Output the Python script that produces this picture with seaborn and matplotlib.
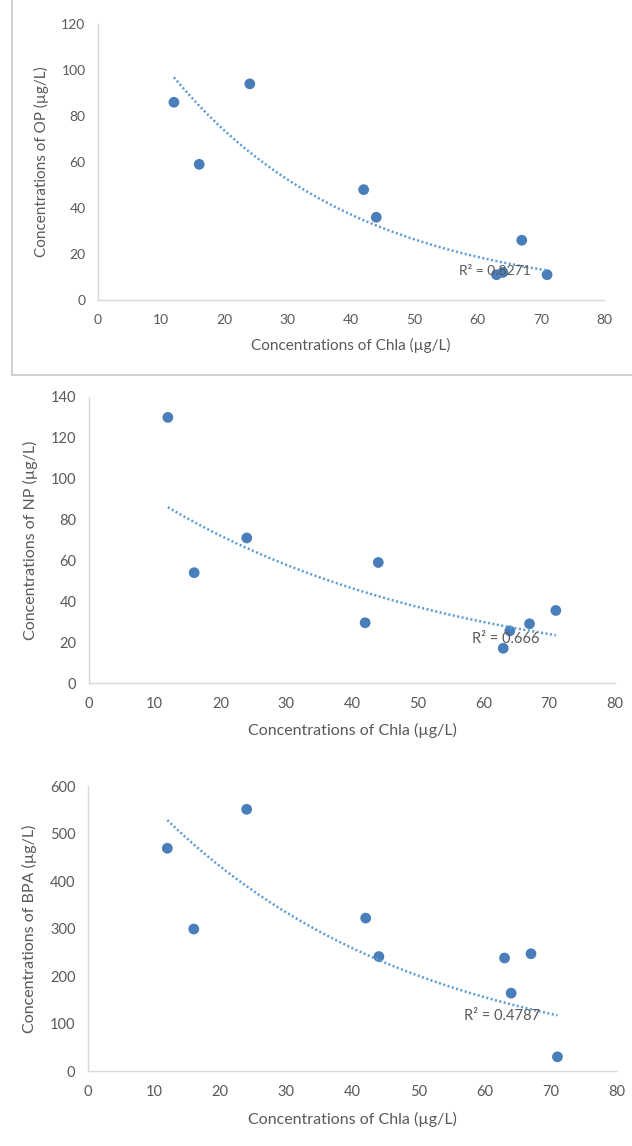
import numpy as np
import seaborn as sns
import matplotlib.pyplot as plt
from matplotlib.lines import Line2D

# data
chla = [12, 16, 24, 42, 44, 63, 64, 67, 71]
op = [86, 59, 94, 48, 36, 11, 12, 26, 11]
np_vals = [130, 54, 71, 29.5, 59, 17, 25.5, 29, 35.5]
bpa = [469, 299, 551, 322, 241, 238, 164, 247, 30]

r2_labels = ['R\u00b2 = 0.8271', 'R\u00b2 = 0.666', 'R\u00b2 = 0.4787']
r2_pos = [(62.8, 12.6), (63.4, 21.5), (62.6, 116)]
ylabels = ['Concentrations of OP (\u00b5g/L)', 'Concentrations of NP (\u00b5g/L)',
           'Concentrations of BPA (\u00b5g/L)']
ymaxes = [120, 140, 600]
ysteps = [20, 20, 100]

sns.set_style("white")
plt.rcParams['font.family'] = ['Lato', 'DejaVu Sans']

grey = '#595959'
dot = '#4a7ebb'
fig = plt.figure(figsize=(6.32, 11.46), dpi=100)

# axes boxes in figure fractions
boxes = [[0.1551, 0.7382, 0.8006, 0.2408],
         [0.1408, 0.4040, 0.8323, 0.2496],
         [0.1392, 0.0654, 0.8370, 0.2487]]
tsizes = [10, 10.5, 10.5]
lsizes = [11, 11.5, 11.5]

for i, yv in enumerate([op, np_vals, bpa]):
    ax = fig.add_axes(boxes[i])
    sns.scatterplot(x=chla, y=yv, ax=ax, color=dot, s=60, edgecolor='none')

    # exponential trend line, fitted like Excel
    b, lna = np.polyfit(chla, np.log(yv), 1)
    xs = np.linspace(min(chla), max(chla), 100)
    ax.plot(xs, np.exp(lna + b * xs), color='#5b9bd5', lw=1.8,
            linestyle=(0, (0.8, 1.0)))
    ax.text(r2_pos[i][0], r2_pos[i][1], r2_labels[i], ha='center', va='center',
            color=grey, fontsize=tsizes[i])

    ax.set_xlim(0, 80)
    ax.set_ylim(0, ymaxes[i])
    ax.set_xticks(range(0, 81, 10))
    ax.set_yticks(range(0, ymaxes[i] + 1, ysteps[i]))
    ax.tick_params(length=0, labelcolor=grey, labelsize=tsizes[i])
    ax.tick_params(axis='x', pad=10)
    ax.tick_params(axis='y', pad=9)
    for s in ['top', 'right']:
        ax.spines[s].set_visible(False)
    for s in ['left', 'bottom']:
        ax.spines[s].set_color('#d9d9d9')
        ax.spines[s].set_linewidth(1.0)
    ax.set_xlabel('Concentrations of Chla (\u00b5g/L)', color=grey,
                  fontsize=lsizes[i], labelpad=9)
    ax.set_ylabel(ylabels[i], color=grey, fontsize=lsizes[i], labelpad=9)

# frame around the first chart
fig.add_artist(Line2D([12 / 632, 12 / 632], [1, 1 - 375 / 1146],
                      color='#c8c8c8', lw=1.2, transform=fig.transFigure))
fig.add_artist(Line2D([12 / 632, 1], [1 - 375 / 1146, 1 - 375 / 1146],
                      color='#c8c8c8', lw=1.2, transform=fig.transFigure))

fig.savefig('out.png', dpi=100)
